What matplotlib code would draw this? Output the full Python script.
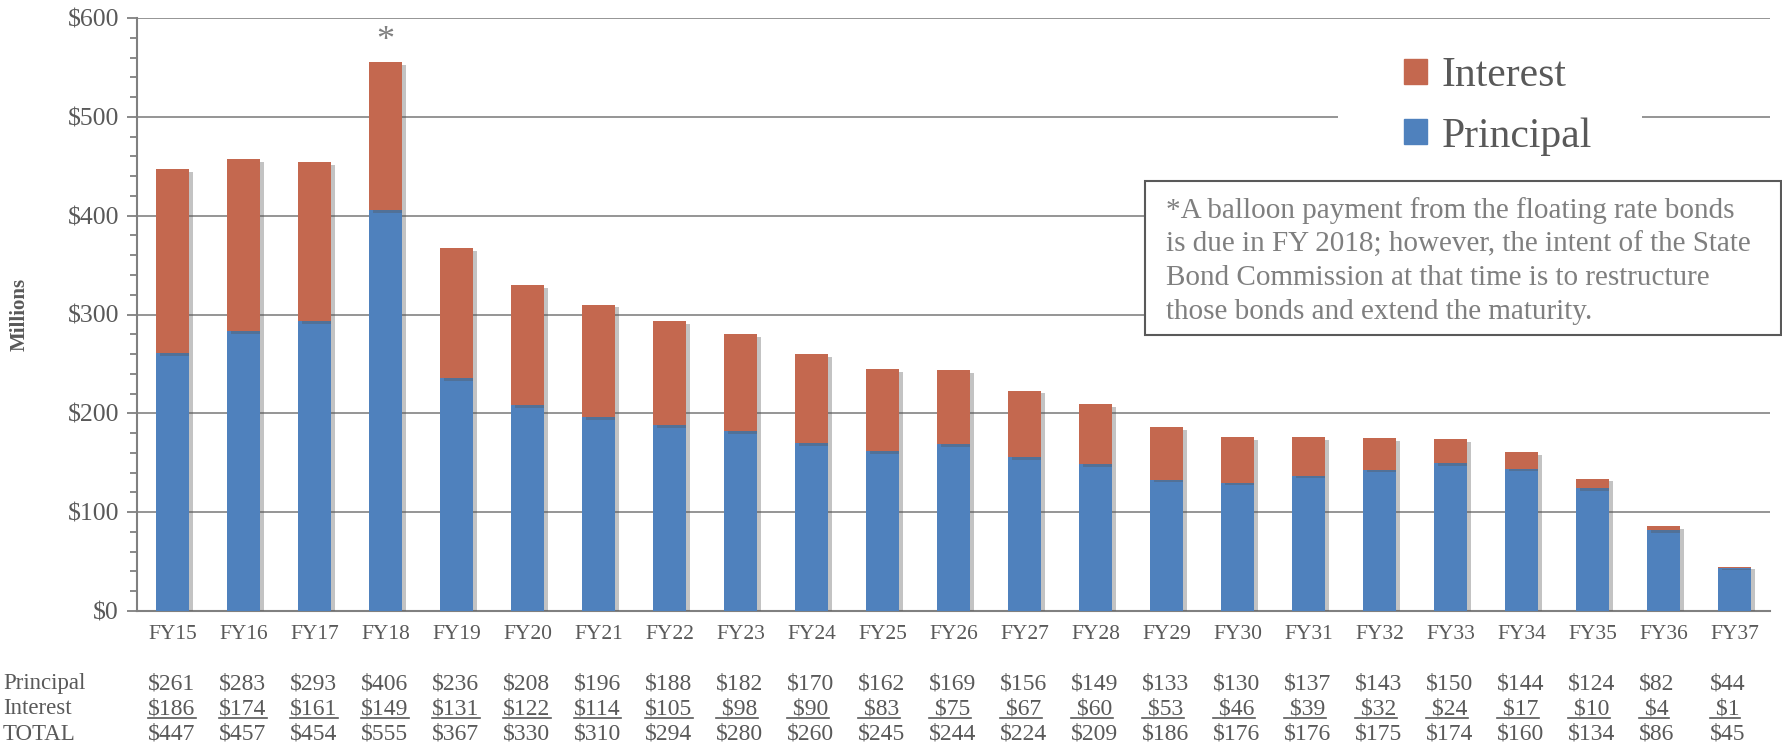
import matplotlib
matplotlib.use('Agg')
import matplotlib.pyplot as plt
import matplotlib.patheffects as pe
from matplotlib.patches import Rectangle, Patch
from matplotlib.transforms import blended_transform_factory
from matplotlib.ticker import MultipleLocator, FuncFormatter

plt.rcParams['font.family'] = ['Liberation Serif', 'DejaVu Serif']

# Debt service schedule ($ millions)
years = ['FY15', 'FY16', 'FY17', 'FY18', 'FY19', 'FY20', 'FY21', 'FY22', 'FY23', 'FY24', 'FY25', 'FY26',
         'FY27', 'FY28', 'FY29', 'FY30', 'FY31', 'FY32', 'FY33', 'FY34', 'FY35', 'FY36', 'FY37']
principal = [261, 283, 293, 406, 236, 208, 196, 188, 182, 170, 162, 169,
             156, 149, 133, 130, 137, 143, 150, 144, 124, 82, 44]
interest = [186, 174, 161, 149, 131, 122, 114, 105, 98, 90, 83, 75,
            67, 60, 53, 46, 39, 32, 24, 17, 10, 4, 1]
totals = [447, 457, 454, 555, 367, 330, 310, 294, 280, 260, 245, 244,
          224, 209, 186, 176, 176, 175, 174, 160, 134, 86, 45]

note = ('*A balloon payment from the floating rate bonds\n'
        'is due in FY 2018; however, the intent of the State\n'
        'Bond Commission at that time is to restructure\n'
        'those bonds and extend the maturity.')

c_int = '#C4684F'
c_pri = '#4F81BD'
gray = '#595959'

W, H = 1783, 743
fig = plt.figure(figsize=(W / 100, H / 100), dpi=100)
ax = fig.add_axes([137 / W, 1 - 611 / H, (1770 - 137) / W, (611 - 18) / H])

x = list(range(len(years)))
shadow = [pe.SimplePatchShadow(offset=(3, -2), shadow_rgbFace='#555555', alpha=0.35), pe.Normal()]
b1 = ax.bar(x, principal, width=0.47, color=c_pri, zorder=3)
b2 = ax.bar(x, interest, width=0.47, bottom=principal, color=c_int, zorder=3)
for r1, r2 in zip(b1, b2):
    r1.set_path_effects(shadow)
    r2.set_path_effects(shadow)

ax.set_xlim(-0.5, len(years) - 0.5)
ax.set_ylim(0, 600)
ax.set_xticks(x)
ax.set_xticklabels(years)
ax.yaxis.set_major_locator(MultipleLocator(100))
ax.yaxis.set_minor_locator(MultipleLocator(20))
ax.yaxis.set_major_formatter(FuncFormatter(lambda v, p: '${:.0f}'.format(v)))
ax.tick_params(axis='y', which='major', length=7, width=1.3, color='#808080', labelsize=18.5, labelcolor=gray, pad=6)
ax.tick_params(axis='y', which='minor', length=5, width=1.3, color='#808080')
ax.tick_params(axis='x', length=0, labelsize=15.5, labelcolor=gray, pad=10)
ax.grid(axis='y', which='major', color='#8C8C8C', linewidth=1.3, zorder=0)
ax.set_axisbelow(True)
for s in ['top', 'right']:
    ax.spines[s].set_visible(False)
for s in ['left', 'bottom']:
    ax.spines[s].set_color('#808080')
    ax.spines[s].set_linewidth(1.5)

ax.set_ylabel('Millions', fontsize=15, fontweight='bold', color=gray)
ax.yaxis.set_label_coords(-0.066, 0.5)

# asterisk over FY18
ax.annotate('*', (3, totals[3]), xytext=(0, 3), textcoords='offset points',
            ha='center', va='bottom', fontsize=26, color='#808080')

# legend on a white patch that breaks the gridline
fig.add_artist(Rectangle((1338 / W, 1 - 165 / H), (1642 - 1338) / W, 125 / H,
                         transform=fig.transFigure, facecolor='white', edgecolor='none', zorder=1))
handles = [Patch(color=c_int, label='Interest'), Patch(color=c_pri, label='Principal')]
leg = fig.legend(handles=handles, loc='upper left', bbox_to_anchor=(1404 / W, 1 - 57 / H),
                 frameon=False, fontsize=30, handlelength=0.55, handleheight=0.55,
                 handletextpad=0.35, labelspacing=0.52, borderpad=0, borderaxespad=0)
for t in leg.get_texts():
    t.set_color(gray)

# note box
fig.add_artist(Rectangle((1145 / W, 1 - 335 / H), (1781 - 1145) / W, (335 - 181) / H,
                         transform=fig.transFigure, facecolor='white', edgecolor=gray,
                         linewidth=1.5, zorder=2))
fig.text(1166 / W, 1 - 261 / H, note, ha='left', va='center', fontsize=21,
         color='#7F7F7F', linespacing=1.37, zorder=3)

# data table under the axis
tr = blended_transform_factory(ax.transData, fig.transFigure)
rows_y = [1 - 684 / H, 1 - 709 / H, 1 - 734 / H]
for lbl, yy in zip(['Principal', 'Interest', 'TOTAL'], rows_y):
    fig.text(3 / W, yy, lbl, ha='left', va='center', fontsize=16.5, color=gray)

int_texts = []
for i in x:
    xs = i - 0.34
    ax.text(xs, rows_y[0], '${}'.format(principal[i]), transform=tr, ha='left', va='center',
            fontsize=17, color=gray, clip_on=False)
    s = '${}'.format(interest[i])
    if interest[i] < 100:
        s = ' ' + s
    t = ax.text(xs, rows_y[1], s, transform=tr, ha='left', va='center',
                fontsize=17, color=gray, clip_on=False)
    int_texts.append(t)
    ax.text(xs, rows_y[2], '${}'.format(totals[i]), transform=tr, ha='left', va='center',
            fontsize=17, color=gray, clip_on=False)

# underline the interest row
fig.canvas.draw()
inv = fig.transFigure.inverted()
for t in int_texts:
    bb = t.get_window_extent()
    (x0, y0), (x1, _) = inv.transform([(bb.x0, bb.y0), (bb.x1, bb.y1)])
    fig.add_artist(plt.Line2D([x0, x1], [y0 + 2 / H, y0 + 2 / H], color=gray, linewidth=1.2,
                              transform=fig.transFigure))

fig.savefig('out.png', dpi=100)
